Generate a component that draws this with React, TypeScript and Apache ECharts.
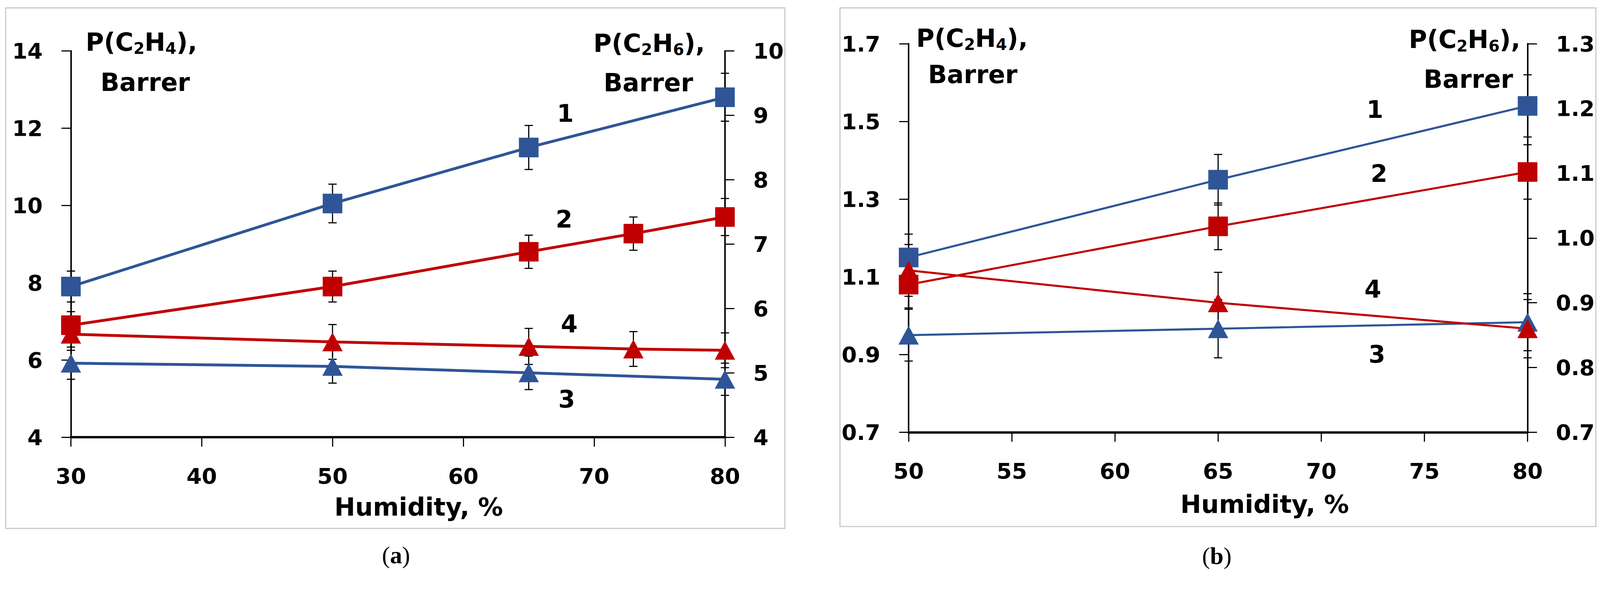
import React, { useEffect, useRef } from "react";
import * as echarts from "echarts";

// ---------- Panel (a) ----------
const xA = { min: 30, max: 80, interval: 10 };
const yLeftA = { min: 4, max: 14, interval: 2 };
const yRightA = { min: 4, max: 10, interval: 1 };

const a1X = [30, 50, 65, 80];
const a1Y = [7.9, 10.05, 11.5, 12.8];
const a1E = [0.4, 0.5, 0.57, 0.62];

const a2X = [30, 50, 65, 73, 80];
const a2Y = [6.9, 7.9, 8.8, 9.27, 9.7];
const a2E = [0.35, 0.4, 0.43, 0.43, 0.48];

const a3X = [30, 50, 65, 80];
const a3Y = [5.15, 5.1, 5.0, 4.9];
const a3E = [0.25, 0.26, 0.26, 0.25];

const a4X = [30, 50, 65, 73, 80];
const a4Y = [5.6, 5.48, 5.41, 5.37, 5.35];
const a4E = [0.25, 0.27, 0.28, 0.27, 0.27];

const annA = ["1", "2", "4", "3"];
const annAX = [67.8, 67.7, 68.1, 67.9];
const annAY = [12.38, 9.64, 6.93, 4.98];

// ---------- Panel (b) ----------
const xB = { min: 50, max: 80, interval: 5 };
const yLeftB = { min: 0.7, max: 1.7, interval: 0.2 };
const yRightB = { min: 0.7, max: 1.3, interval: 0.1 };

const b1X = [50, 65, 80];
const b1Y = [1.15, 1.35, 1.54];
const b1E = [0.06, 0.065, 0.08];

const b2X = [50, 65, 80];
const b2Y = [1.08, 1.23, 1.37];
const b2E = [0.06, 0.06, 0.07];

const b3X = [50, 65, 80];
const b3Y = [0.85, 0.86, 0.87];
const b3E = [0.04, 0.045, 0.044];

const b4X = [50, 65, 80];
const b4Y = [0.95, 0.9, 0.86];
const b4E = [0.04, 0.047, 0.045];

const annB = ["1", "2", "4", "3"];
const annBX = [72.6, 72.8, 72.5, 72.7];
const annBY = [1.53, 1.366, 1.068, 0.9];

const xTitle = "Humidity, %";
const unit = "Barrer";

const BLUE = "#2F5597";
const RED = "#C00000";
const FONT = "DejaVu Sans";
const W0 = 4242;
const H0 = 1532;

function pairs(x: number[], y: number[]) {
  return x.map((v, i) => [v, y[i]]);
}

function buildOption(s: number): any {
  const k = (v: number) => v * s;

  const lineSeries = (x: number[], y: number[], color: string, symbol: string, xi: number, yi: number, lw: number) => ({
    type: "line",
    xAxisIndex: xi,
    yAxisIndex: yi,
    data: pairs(x, y),
    symbol,
    symbolSize: symbol === "triangle" ? [k(54), k(50)] : k(52),
    showSymbol: true,
    clip: false,
    z: 3,
    lineStyle: { color, width: k(lw) },
    itemStyle: { color, opacity: 1 },
    silent: true,
  });

  const errSeries = (x: number[], y: number[], e: number[], xi: number, yi: number) => ({
    type: "custom",
    xAxisIndex: xi,
    yAxisIndex: yi,
    z: 2,
    clip: false,
    silent: true,
    data: x.map((v, i) => [v, y[i] - e[i], y[i] + e[i]]),
    encode: { x: 0, y: [1, 2] },
    renderItem: (params: any, api: any) => {
      const lo = api.coord([api.value(0), api.value(1)]);
      const hi = api.coord([api.value(0), api.value(2)]);
      const w = k(11);
      const st = { stroke: "#000", lineWidth: k(3) };
      return {
        type: "group",
        children: [
          { type: "line", shape: { x1: lo[0], y1: lo[1], x2: hi[0], y2: hi[1] }, style: st },
          { type: "line", shape: { x1: lo[0] - w, y1: lo[1], x2: lo[0] + w, y2: lo[1] }, style: st },
          { type: "line", shape: { x1: hi[0] - w, y1: hi[1], x2: hi[0] + w, y2: hi[1] }, style: st },
        ],
      };
    },
  });

  const axisLabelStyle = {
    color: "#000",
    fontFamily: FONT,
    fontWeight: "bold",
    fontSize: k(58),
  };

  const xAxis = (cfg: any, grid: number) => ({
    type: "value",
    gridIndex: grid,
    min: cfg.min,
    max: cfg.max,
    interval: cfg.interval,
    axisLine: { show: true, onZero: false, lineStyle: { color: "#000", width: k(6) } },
    axisTick: { show: true, inside: false, length: k(25), lineStyle: { color: "#000", width: k(3) } },
    axisLabel: { ...axisLabelStyle, margin: k(74) },
    splitLine: { show: false },
  });

  const yAxis = (cfg: any, grid: number, pos: string, digits: number) => ({
    type: "value",
    gridIndex: grid,
    position: pos,
    min: cfg.min,
    max: cfg.max,
    interval: cfg.interval,
    axisLine: { show: true, onZero: false, lineStyle: { color: "#000", width: k(4) } },
    axisTick: { show: true, inside: false, length: k(25), lineStyle: { color: "#000", width: k(3) } },
    axisLabel: {
      ...axisLabelStyle,
      margin: k(75),
      formatter: (v: number) => v.toFixed(digits),
    },
    splitLine: { show: false },
  });

  return {
    animation: false,
    backgroundColor: "#fff",
    grid: [
      { left: k(188), top: k(135), width: k(1734), height: k(1025), containLabel: false, outerBoundsMode: "none" },
      { left: k(2409), top: k(116), width: k(1641), height: k(1031), containLabel: false, outerBoundsMode: "none" },
    ],
    xAxis: [xAxis(xA, 0), xAxis(xB, 1)],
    yAxis: [
      yAxis(yLeftA, 0, "left", 0),
      yAxis(yRightA, 0, "right", 0),
      yAxis(yLeftB, 1, "left", 1),
      yAxis(yRightB, 1, "right", 1),
    ],
    series: [
      errSeries(a1X, a1Y, a1E, 0, 0),
      errSeries(a2X, a2Y, a2E, 0, 0),
      errSeries(a3X, a3Y, a3E, 0, 1),
      errSeries(a4X, a4Y, a4E, 0, 1),
      lineSeries(a1X, a1Y, BLUE, "rect", 0, 0, 7.5),
      lineSeries(a2X, a2Y, RED, "rect", 0, 0, 7.5),
      lineSeries(a3X, a3Y, BLUE, "triangle", 0, 1, 7.5),
      lineSeries(a4X, a4Y, RED, "triangle", 0, 1, 7.5),
      errSeries(b1X, b1Y, b1E, 1, 2),
      errSeries(b2X, b2Y, b2E, 1, 2),
      errSeries(b3X, b3Y, b3E, 1, 3),
      errSeries(b4X, b4Y, b4E, 1, 3),
      lineSeries(b1X, b1Y, BLUE, "rect", 1, 2, 5.5),
      lineSeries(b2X, b2Y, RED, "rect", 1, 2, 5.5),
      lineSeries(b3X, b3Y, BLUE, "triangle", 1, 3, 5.5),
      lineSeries(b4X, b4Y, RED, "triangle", 1, 3, 5.5),
    ],
  };
}

function buildGraphics(s: number, chart: any): any[] {
  const k = (v: number) => v * s;

  const rich = {
    m: { fontFamily: FONT, fontWeight: "bold", fontSize: k(66), lineHeight: k(76), color: "#000" },
    s: { fontFamily: FONT, fontWeight: "bold", fontSize: k(42), lineHeight: k(42), verticalAlign: "bottom", color: "#000" },
  };

  const textAt = (text: string, px: number, py: number, size: number) => ({
    type: "text",
    x: px,
    y: py,
    z: 10,
    style: {
      text,
      fontFamily: FONT,
      fontWeight: "bold",
      fontSize: k(size),
      lineHeight: k(size * 0.95),
      fill: "#000",
      align: "center",
      verticalAlign: "middle",
    },
  });

  const plain = (text: string, x: number, y: number, size: number) => textAt(text, k(x), k(y), size);

  const titleTexts = (sub: string, x1: number, y1: number, x2: number, y2: number) => [
    {
      type: "text",
      x: k(x1),
      y: k(y1),
      style: {
        text: `{m|P(C}{s|2}{m|H}{s|${sub}}{m|),}`,
        rich,
        align: "center",
        verticalAlign: "middle",
      },
    },
    plain(unit, x2, y2, 66),
  ];

  const captionText = (letter: string, x: number, y: number) => ({
    type: "text",
    x: k(x),
    y: k(y),
    style: {
      text: `{p|(}{b|${letter}}{p|)}`,
      rich: {
        p: { fontFamily: "Liberation Serif", fontSize: k(64), color: "#000" },
        b: { fontFamily: "Liberation Serif", fontSize: k(64), fontWeight: "bold", color: "#000" },
      },
      align: "center",
      verticalAlign: "middle",
    },
  });

  const border = (x: number, y: number, w: number, h: number) => ({
    type: "rect",
    shape: { x: k(x), y: k(y), width: k(w), height: k(h) },
    style: { fill: "none", stroke: "#C8C8C8", lineWidth: k(3) },
    z: 0,
  });

  const annotations = (names: string[], xs: number[], ys: number[], xi: number, yi: number) =>
    names.map((n, i) => {
      const p = chart.convertToPixel({ xAxisIndex: xi, yAxisIndex: yi }, [xs[i], ys[i]]);
      return textAt(n, p[0], p[1], 64);
    });

  return [
    border(15, 21, 2066, 1381),
    border(2227, 21, 2004, 1376),
    ...titleTexts("4", 375, 112, 385, 219),
    ...titleTexts("6", 1721, 115, 1719, 220),
    ...titleTexts("4", 2577, 101, 2579, 198),
    ...titleTexts("6", 3883, 105, 3893, 210),
    plain(xTitle, 1110, 1345, 66),
    plain(xTitle, 3353, 1338, 66),
    captionText("a", 1050, 1473),
    captionText("b", 3226, 1475),
    ...annotations(annA, annAX, annAY, 0, 0),
    ...annotations(annB, annBX, annBY, 1, 2),
  ];
}

function App() {
  const ref = useRef<HTMLDivElement>(null);
  const vw = typeof window !== "undefined" ? window.innerWidth : W0;
  const vh = typeof window !== "undefined" ? window.innerHeight : H0;
  const s = Math.min(vw / W0, vh / H0);
  useEffect(() => {
    if (!ref.current) return;
    const chart = echarts.init(ref.current, undefined, { renderer: "svg" });
    chart.setOption(buildOption(s));
    chart.setOption({ graphic: buildGraphics(s, chart) });
    return () => chart.dispose();
  }, [s]);
  return (
    <div
      ref={ref}
      style={{ position: "fixed", left: 0, top: 0, width: W0 * s, height: H0 * s, background: "#fff" }}
    />
  );
}

export default App;
